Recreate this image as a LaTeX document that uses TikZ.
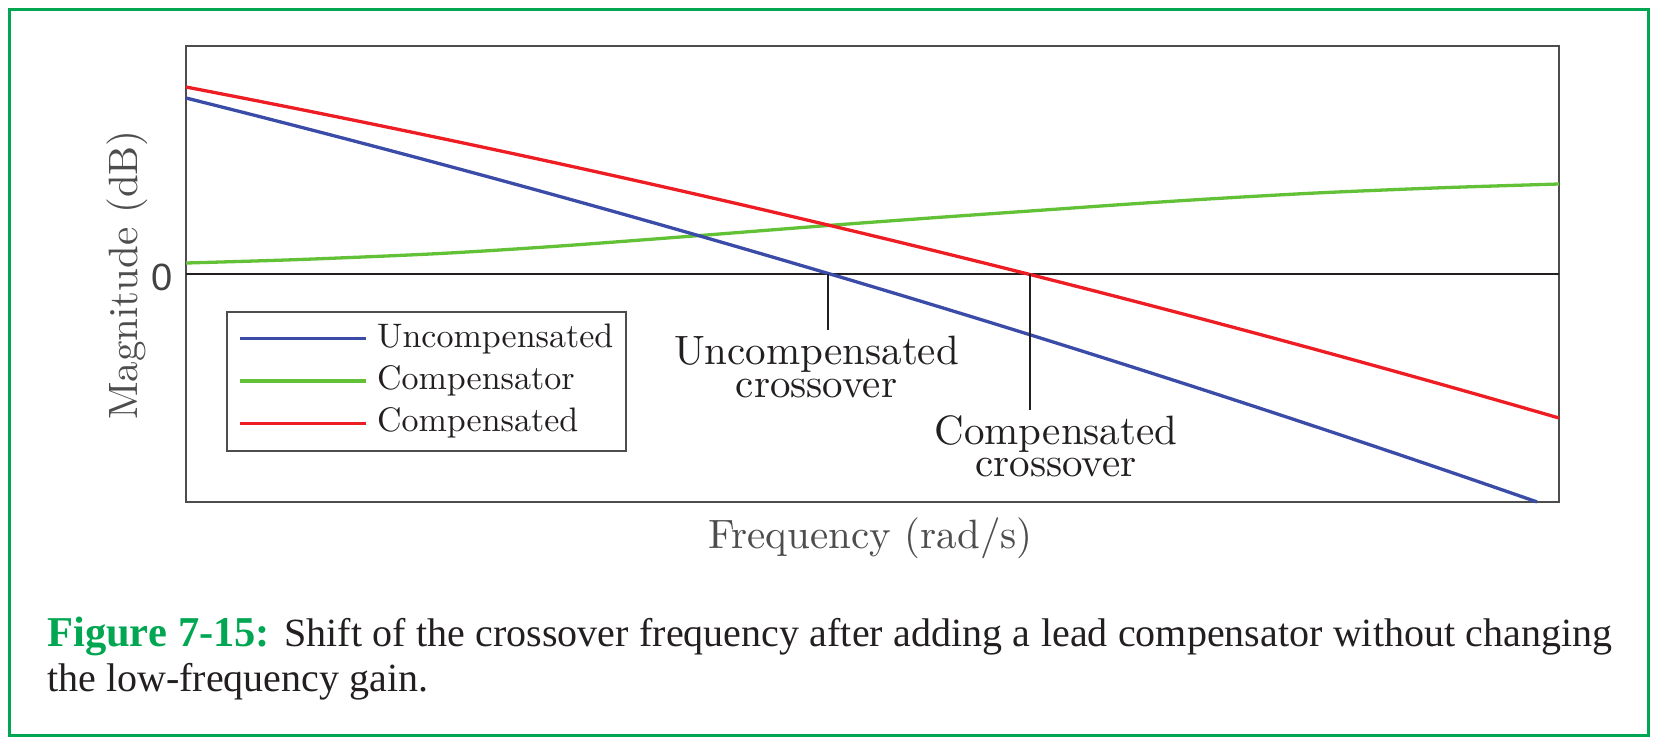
\documentclass[tikz,border=0pt]{standalone}
\usepackage{fontspec}
\setmainfont{lmroman10-regular}[Extension=.otf, BoldFont=lmroman10-bold]
\newfontfamily\capfont{Liberation Serif}
\newfontfamily\zerofont{Liberation Sans}
\definecolor{framegreen}{HTML}{00A651}
\definecolor{ublue}{HTML}{3B4BA8}
\definecolor{cred}{HTML}{EE1D23}
\definecolor{cgreen}{HTML}{62C136}
\definecolor{axgray}{HTML}{4D4D4D}
\definecolor{ink}{HTML}{231F20}
\begin{document}
\begin{tikzpicture}[x=1pt,y=-1pt,
  every node/.style={inner sep=0pt, outer sep=0pt},
  curve/.style={line width=3.3pt, line join=round, line cap=butt},
  lab/.style={font=\fontsize{41}{41}\selectfont, text=ink, anchor=base},
  axlab/.style={font=\fontsize{41}{41}\selectfont, text=axgray, anchor=base},
  legtext/.style={font=\fontsize{34}{34}\selectfont, text=ink, anchor=base west},
  ticker/.style={line width=2pt, draw=ink},
  captext/.style={font=\capfont\fontsize{40}{45}\selectfont, text=ink, anchor=base west}]
\useasboundingbox (0,0) rectangle (1660,745);
% outer frame
\draw[framegreen, line width=3pt] (9,9) rectangle (1648.5,735);
% axes
\draw[axgray, line width=2.5pt] (186,46) rectangle (1559,502);
\coordinate (z0) at (186,274);
\coordinate (z1) at (1559,274);
\draw[ink, line width=2pt] (z0) -- (z1);
% curves
\draw[curve, cgreen] plot[smooth] coordinates {(186,263) (300,259.5) (440,253.5) (560,246) (700,235.5) (828,225.5) (930,218) (1030,211) (1130,204) (1220,198.3) (1320,192.8) (1440,187.8) (1559,184)};
\draw[curve, ublue] plot[domain=186:1537, samples=60] (\x, {98 + 0.2498*(\x-186) + 0.364*((\x-186)/100)^2});
\draw[curve, cred] plot[domain=186:1559, samples=60] (\x, {87 + 0.192*(\x-186) + 0.3574*((\x-186)/100)^2});
% crossover ticks
\coordinate (uc) at (828,274);
\coordinate (ucb) at (828,330);
\coordinate (cc) at (1030,274);
\coordinate (ccb) at (1030,410);
\draw[ticker] (uc) -- (ucb);
\draw[ticker] (cc) -- (ccb);
\node[lab] (uc1) at (816.5,364.3) {Uncompensated};
\node[lab] (uc2) at (816.5,397.7) {crossover};
\node[lab] (cc1) at (1056,444) {Compensated};
\node[lab] (cc2) at (1056,476.7) {crossover};
% axis labels
\node[axlab] (xlab) at (870.5,548.3) {Frequency (rad/s)};
\node[axlab, rotate=90] (ylab) at (137,275) {Magnitude (dB)};
\node[font=\zerofont\fontsize{38}{38}\selectfont, text=ink!85, anchor=base] (zero) at (162,290) {0};
% legend
\node[draw=axgray, line width=2pt, minimum width=399pt, minimum height=139pt, anchor=north west] (legend) at (227,312) {};
\coordinate (l1a) at (240,338.3); \coordinate (l1b) at (366,338.3);
\coordinate (l2a) at (240,381); \coordinate (l2b) at (366,381);
\coordinate (l3a) at (240,423.3); \coordinate (l3b) at (366,423.3);
\draw[curve, ublue] (l1a) -- (l1b);
\draw[curve, cgreen] (l2a) -- (l2b);
\draw[curve, cred] (l3a) -- (l3b);
\node[legtext] (t1) at (377,347.3) {Uncompensated};
\node[legtext] (t2) at (377,389.3) {Compensator};
\node[legtext] (t3) at (377,431.7) {Compensated};
% caption
\node[captext] (cap1) at (47.3,646) {\hbox to 1565pt{\textcolor{framegreen}{\fontsize{42.5}{45}\selectfont\bfseries Figure 7-15:} Shift of the crossover frequency after adding a lead compensator without changing}};
\node[captext] (cap2) at (47.3,691) {the low-frequency gain.};
\end{tikzpicture}
\end{document}
